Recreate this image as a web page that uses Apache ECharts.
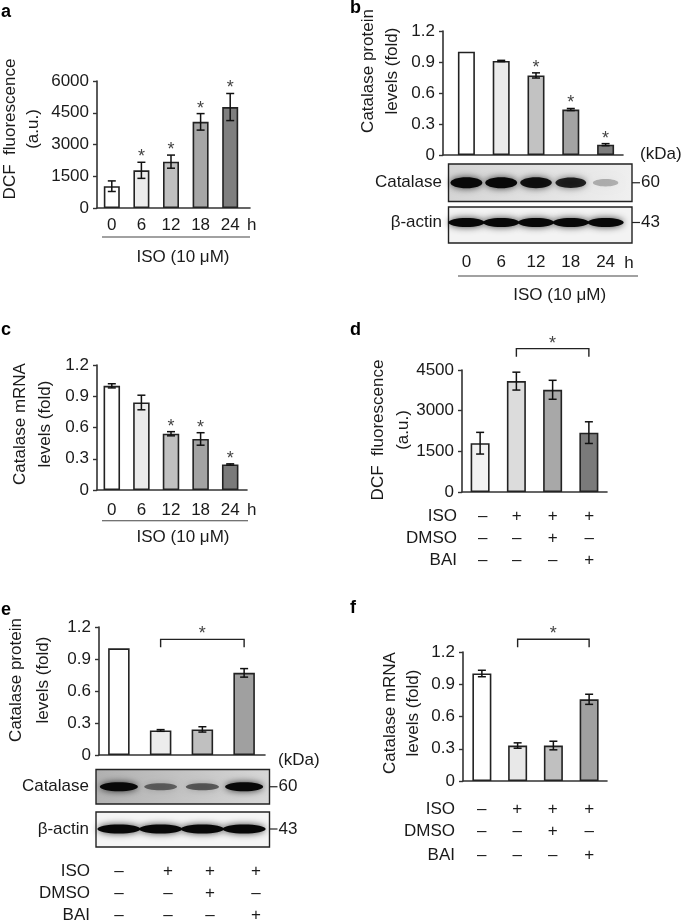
<!DOCTYPE html>
<html><head><meta charset="utf-8">
<script src="https://cdn.jsdelivr.net/npm/echarts@6/dist/echarts.min.js"></script>
<style>html,body{margin:0;padding:0;background:#fff}#c{width:685px;height:922px}</style>
</head><body><div id="c"></div>
<script>
// ---------------- data ----------------
const timeCats = ['0', '6', '12', '18', '24'];
const treatCats = ['Control', 'ISO', 'ISO+DMSO', 'ISO+BAI'];

const aTicks = ['0', '1500', '3000', '4500', '6000'];
const aValues = [1030, 1780, 2190, 4070, 4770];
const aErrors = [250, 380, 310, 390, 640];
const aStars = [0, 1, 1, 1, 1];

const bTicks = ['0', '0.3', '0.6', '0.9', '1.2'];
const bValues = [1.00, 0.91, 0.77, 0.44, 0.10];
const bErrors = [0, 0.006, 0.025, 0.01, 0.01];
const bStars = [0, 0, 1, 1, 1];
const bCatalaseBands = [1.0, 1.0, 0.95, 0.85, 0.18];
const bActinBands = [1, 1, 1, 1, 1];

const cTicks = ['0', '0.3', '0.6', '0.9', '1.2'];
const cValues = [1.00, 0.84, 0.54, 0.49, 0.245];
const cErrors = [0.02, 0.07, 0.02, 0.06, 0.006];
const cStars = [0, 0, 1, 1, 1];

const dTicks = ['0', '1500', '3000', '4500'];
const dValues = [1800, 4090, 3770, 2190];
const dErrors = [400, 330, 350, 400];
const dCompare = [1, 3];

const eTicks = ['0', '0.3', '0.6', '0.9', '1.2'];
const eValues = [1.00, 0.23, 0.24, 0.77];
const eErrors = [0, 0.008, 0.025, 0.04];
const eCompare = [1, 3];
const eCatalaseBands = [1.0, 0.45, 0.5, 1.0];
const eActinBands = [1, 1, 1, 1];

const fTicks = ['0', '0.3', '0.6', '0.9', '1.2'];
const fValues = [1.00, 0.33, 0.33, 0.76];
const fErrors = [0.03, 0.025, 0.04, 0.047];
const fCompare = [1, 3];

const signRows = ['ISO', 'DMSO', 'BAI'];
const signTable = [['–', '+', '+', '+'], ['–', '–', '+', '–'], ['–', '–', '–', '+']];

// ---------------- styles / layout ----------------
const FONT = '"Liberation Sans", Arial, Helvetica, sans-serif';
const TXT = '#1a1a1a';
const panels = [
  { id: 'a', cats: timeCats, ticks: aTicks, values: aValues, errors: aErrors, stars: aStars,
    colors: ['#ffffff', '#ebebeb', '#c0c0c0', '#a6a6a6', '#7f7f7f'],
    frame: { left: 97, top: 81, width: 153, height: 127 }, data: { left: 97, width: 148 }, barWidth: 16, xLabelMargin: 9 },
  { id: 'b', cats: timeCats, ticks: bTicks, values: bValues, errors: bErrors, stars: bStars,
    colors: ['#ffffff', '#ebebeb', '#c2c2c2', '#a3a3a3', '#7d7d7d'],
    frame: { left: 443, top: 31, width: 180, height: 124 }, data: { left: 449, width: 174 }, barWidth: 17, xLabelMargin: 99 },
  { id: 'c', cats: timeCats, ticks: cTicks, values: cValues, errors: cErrors, stars: cStars,
    colors: ['#ffffff', '#ebebeb', '#c0c0c0', '#a3a3a3', '#7a7a7a'],
    frame: { left: 97, top: 365, width: 150, height: 125 }, data: { left: 97, width: 148 }, barWidth: 16.5, xLabelMargin: 11.5 },
  { id: 'd', cats: treatCats, ticks: dTicks, values: dValues, errors: dErrors, compare: dCompare, bracketPx: 23.5,
    colors: ['#f2f2f2', '#dcdcdc', '#a8a8a8', '#7a7a7a'],
    frame: { left: 462, top: 370, width: 145, height: 122 }, data: { left: 462, width: 145 }, barWidth: 19 },
  { id: 'e', cats: treatCats, ticks: eTicks, values: eValues, errors: eErrors, compare: eCompare, bracketPx: 9,
    colors: ['#ffffff', '#ececec', '#c0c0c0', '#a0a0a0'],
    frame: { left: 99, top: 627, width: 166, height: 128 }, data: { left: 98, width: 167 }, barWidth: 21.5 },
  { id: 'f', cats: treatCats, ticks: fTicks, values: fValues, errors: fErrors, compare: fCompare, bracketPx: 31,
    colors: ['#ffffff', '#e8e8e8', '#c0c0c0', '#a0a0a0'],
    frame: { left: 463, top: 652, width: 144, height: 129 }, data: { left: 464, width: 143 }, barWidth: 19 }
];

const grid = [], xAxis = [], yAxis = [], series = [];
const dataXAxisIndex = {};

panels.forEach(p => {
  const tmin = +p.ticks[0], tmax = +p.ticks[p.ticks.length - 1], tint = +p.ticks[1] - +p.ticks[0];
  const fmt = v => { const m = p.ticks.find(t => Math.abs(+t - v) < 1e-6); return m === undefined ? '' : m; };
  const gF = grid.length;
  grid.push(Object.assign({}, p.frame));
  xAxis.push({ gridIndex: gF, type: 'value', min: 0, max: 1, axisLine: { show: true, lineStyle: { color: '#333', width: 1.6 } },
    axisTick: { show: false }, axisLabel: { show: false }, splitLine: { show: false } });
  yAxis.push({ gridIndex: gF, type: 'value', min: tmin, max: tmax, interval: tint,
    axisLine: { show: true, lineStyle: { color: '#333', width: 1.6 } },
    axisTick: { show: true, inside: false, length: 4, lineStyle: { color: '#333', width: 1.4 } },
    axisLabel: { show: true, margin: 8, color: TXT, fontSize: 17, fontFamily: FONT, formatter: fmt },
    splitLine: { show: false } });
  const gD = grid.length;
  grid.push({ left: p.data.left, width: p.data.width, top: p.frame.top, height: p.frame.height });
  dataXAxisIndex[p.id] = xAxis.length;
  xAxis.push({ gridIndex: gD, type: 'category', data: p.cats, boundaryGap: true,
    axisLine: { show: false }, axisTick: { show: false }, splitLine: { show: false },
    axisLabel: { show: p.xLabelMargin !== undefined, margin: p.xLabelMargin || 8, interval: 0, color: TXT, fontSize: 17, fontFamily: FONT } });
  const yD = yAxis.length;
  yAxis.push({ gridIndex: gD, type: 'value', min: tmin, max: tmax, show: false, splitLine: { show: false } });
  const xD = dataXAxisIndex[p.id];

  series.push({ type: 'bar', xAxisIndex: xD, yAxisIndex: yD, barWidth: p.barWidth, animation: false,
    data: p.values.map((v, i) => ({ value: v, itemStyle: { color: p.colors[i] } })),
    itemStyle: { borderColor: '#222', borderWidth: 1.6 } });

  series.push({ type: 'custom', xAxisIndex: xD, yAxisIndex: yD, animation: false, clip: false, z: 5,
    data: p.values.map((v, i) => [i, v, p.errors[i]]),
    renderItem: (params, api) => {
      const x = api.value(0), v = api.value(1), e = api.value(2);
      if (!e) return null;
      const t = api.coord([x, v + e]), b = api.coord([x, v - e]); const hw = 4;
      const st = { stroke: '#111', lineWidth: 1.5 };
      return { type: 'group', children: [
        { type: 'line', shape: { x1: t[0], y1: t[1], x2: b[0], y2: b[1] }, style: st },
        { type: 'line', shape: { x1: t[0] - hw, y1: t[1], x2: t[0] + hw, y2: t[1] }, style: st },
        { type: 'line', shape: { x1: b[0] - hw, y1: b[1], x2: b[0] + hw, y2: b[1] }, style: st }] };
    } });

  if (p.stars) {
    series.push({ type: 'custom', xAxisIndex: xD, yAxisIndex: yD, animation: false, clip: false, z: 6,
      data: p.values.map((v, i) => [i, v + p.errors[i], p.stars[i]]).filter(d => d[2]),
      renderItem: (params, api) => {
        const c = api.coord([api.value(0), api.value(1)]);
        return { type: 'text', x: c[0], y: c[1] - 5, style: { text: '*', fill: '#444', font: '18px ' + FONT, align: 'center', verticalAlign: 'middle' } };
      } });
  }
  if (p.compare) {
    const top = Math.max(...p.values.map((v, i) => v + p.errors[i]));
    series.push({ type: 'custom', xAxisIndex: xD, yAxisIndex: yD, animation: false, clip: false, z: 6,
      data: [[p.compare[0], p.compare[1], top]],
      renderItem: (params, api) => {
        const a = api.coord([api.value(0), api.value(2)]), b = api.coord([api.value(1), api.value(2)]);
        const y = a[1] - p.bracketPx; const st = { stroke: '#222', lineWidth: 1.4, fill: null };
        return { type: 'group', children: [
          { type: 'polyline', shape: { points: [[a[0], y + 8], [a[0], y], [b[0], y], [b[0], y + 8]] }, style: st },
          { type: 'text', x: (a[0] + b[0]) / 2, y: y - 5, style: { text: '*', fill: '#444', font: '18px ' + FONT, align: 'center', verticalAlign: 'middle' } }] };
      } });
  }
});

const chart = echarts.init(document.getElementById('c'), null, { renderer: 'canvas' });
chart.setOption({ animation: false, backgroundColor: '#fff', grid, xAxis, yAxis, series });

// ---------------- annotations ----------------
function txt(t, x, y, o = {}) {
  return { type: 'text', x, y, rotation: o.rot || 0, silent: true, z: 10,
    style: { text: t, x: 0, y: 0, fill: o.color || TXT, font: (o.bold ? 'bold ' : '') + (o.size || 17) + 'px ' + FONT,
      align: o.align || 'center', verticalAlign: o.va || 'middle', lineHeight: o.lh } };
}
function line(x1, y1, x2, y2, w = 1.2, c = '#333') {
  return { type: 'line', silent: true, z: 10, shape: { x1, y1, x2, y2 }, style: { stroke: c, lineWidth: w } };
}
function ytitle(t, cx, cy, lh) { return txt(t, cx, cy, { rot: Math.PI / 2, lh }); }

const g = [];
[['a', 1, 11.6], ['b', 350, 7.6], ['c', 1, 329.6], ['d', 350, 329.6], ['e', 1, 609.6], ['f', 350, 607.6]]
  .forEach(([t, x, y]) => g.push(txt(t, x, y, { bold: true, size: 18, align: 'left', color: '#000' })));
g.push(ytitle('DCF  fluorescence\n(a.u.)', 21.5, 129, 23));
g.push(ytitle('Catalase protein\nlevels (fold)', 380, 71, 24));
g.push(ytitle('Catalase mRNA\nlevels (fold)', 32.5, 424, 25));
g.push(ytitle('DCF  fluorescence\n(a.u.)', 390.5, 430, 25));
g.push(ytitle('Catalase protein\nlevels (fold)', 30, 680, 26.5));
g.push(ytitle('Catalase mRNA\nlevels (fold)', 401.7, 713, 23));
[[251.7, 225, 102, 250, 237, 183, 257], [629, 263, 458, 638, 276, 559.7, 295], [251.7, 510, 102, 248, 520.7, 183, 537]]
  .forEach(([hx, hy, lx1, lx2, ly, ix, iy]) => {
    g.push(txt('h', hx, hy));
    g.push(line(lx1, ly, lx2, ly, 1.1, '#444'));
    g.push(txt('ISO (10 μM)', ix, iy));
  });
function signs(xr, cols, ys) {
  signRows.forEach((r, ri) => {
    g.push(txt(r, xr, ys[ri], { align: 'right' }));
    signTable[ri].forEach((s, ci) => g.push(txt(s, cols[ci], ys[ri])));
  });
}
signs(457, [482.7, 516.7, 552.7, 589.3], [516.7, 538.3, 560]);
signs(90, [119, 168, 210, 256], [871.7, 893.3, 915]);
signs(455, [481.7, 517.3, 552.7, 589.3], [809.3, 831.7, 855]);

function blot(pid, box, rows, labelsRight, kda) {
  const xi = dataXAxisIndex[pid];
  const p = panels.find(q => q.id === pid);
  const lanes = p.cats.map(c => chart.convertToPixel({ xAxisIndex: xi }, c));
  g.push(txt('(kDa)', kda.x, kda.y, { align: 'left' }));
  rows.forEach(r => {
    g.push({ type: 'rect', silent: true, z: 8, shape: { x: box.x1, y: r.y1, width: box.x2 - box.x1, height: r.y2 - r.y1 },
      style: { fill: r.bg, stroke: '#222', lineWidth: 1.4 } });
    const cy = (r.y1 + r.y2) / 2 + (r.dy || 0);
    r.bands.forEach((a, i) => {
      const w = r.bw * (0.75 + 0.25 * a), h = r.bh * (0.6 + 0.4 * a);
      g.push({ type: 'ellipse', silent: true, z: 9, shape: { cx: lanes[i], cy, rx: w / 2, ry: h / 2 },
        style: { fill: 'rgba(8,8,8,' + (0.1 + 0.9 * a).toFixed(2) + ')', shadowBlur: 7, shadowColor: 'rgba(0,0,0,' + (0.75 * a).toFixed(2) + ')' } });
    });
    g.push(txt(r.label, labelsRight, cy, { align: 'right' }));
    g.push(line(box.x2, cy, box.x2 + 8, cy, 1.2, '#222'));
    g.push(txt(r.kda, box.x2 + 9, cy, { align: 'left' }));
  });
}
const LG = echarts.graphic.LinearGradient;
blot('b', { x1: 448.5, x2: 632 }, [
  { label: 'Catalase', kda: '60', y1: 164, y2: 201.5, bands: bCatalaseBands, bw: 32, bh: 11,
    bg: new LG(0, 0, 1, 1, [{ offset: 0, color: '#d3d3d3' }, { offset: 1, color: '#f0f0f0' }]) },
  { label: 'β-actin', kda: '43', y1: 207, y2: 243, bands: bActinBands, bw: 36, bh: 9, dy: -2.5, bg: '#f3f3f3' }
], 442, { x: 640, y: 154 });
blot('e', { x1: 96, x2: 269.5 }, [
  { label: 'Catalase', kda: '60', y1: 769.5, y2: 804, bands: eCatalaseBands, bw: 38, bh: 9,
    bg: new LG(0, 0, 1, 1, [{ offset: 0, color: '#b0b0b0' }, { offset: 1, color: '#d8d8d8' }]) },
  { label: 'β-actin', kda: '43', y1: 812, y2: 847, bands: eActinBands, bw: 43, bh: 9, dy: -0.5, bg: '#f5f5f5' }
], 89, { x: 278, y: 760 });

chart.setOption({ graphic: g });
</script></body></html>
